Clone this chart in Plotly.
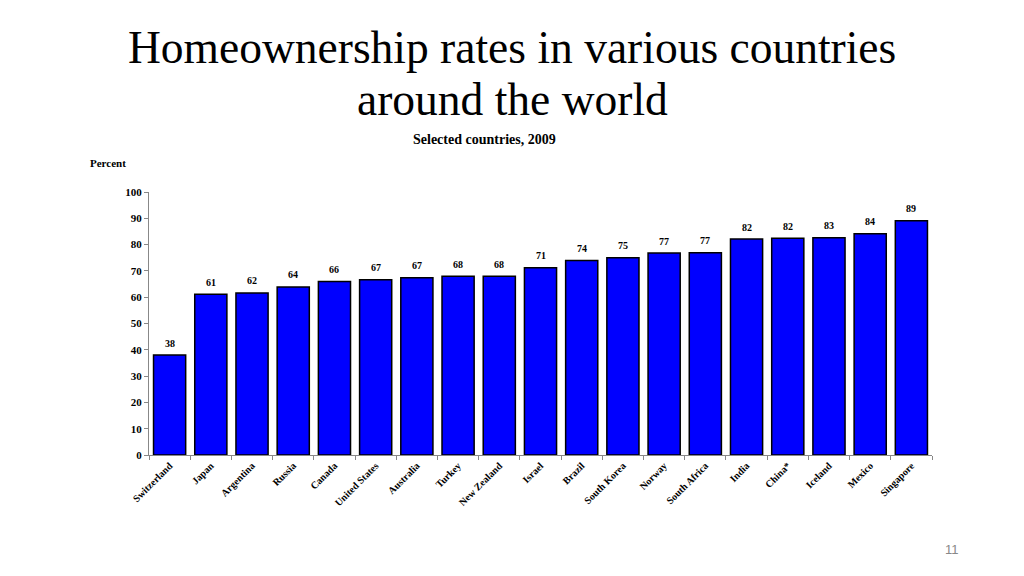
import plotly.graph_objects as go

countries = ["Switzerland", "Japan", "Argentina", "Russia", "Canada", "United States",
             "Australia", "Turkey", "New Zealand", "Israel", "Brazil", "South Korea",
             "Norway", "South Africa", "India", "China*", "Iceland", "Mexico", "Singapore"]
values = [38.0, 61.1, 61.6, 63.9, 66.0, 66.6, 67.4, 68.0, 68.0, 71.2, 74.0, 75.0,
          76.8, 76.9, 82.1, 82.4, 82.6, 84.1, 89.1]
labels = ["38", "61", "62", "64", "66", "67", "67", "68", "68", "71", "74", "75",
          "77", "77", "82", "82", "83", "84", "89"]
yticks = [0, 10, 20, 30, 40, 50, 60, 70, 80, 90, 100]

serif = "Liberation Serif, Times New Roman, serif"

# page body has an 8px margin; compensate so the plot lands where it should
OFF = 8
L, R, T, B = 149 - OFF, 92 + OFF, 192 - OFF, 121 + OFF

fig = go.Figure(go.Bar(
    x=countries, y=values,
    marker=dict(color="#0000FF", line=dict(color="black", width=1.5)),
    hoverinfo="x+y",
))

# value labels above bars
ann = []
for c, v, t in zip(countries, values, labels):
    ann.append(dict(x=c, y=v, xref="x", yref="y", text="<b>%s</b>" % t,
                    showarrow=False, yshift=12, xanchor="center", yanchor="middle",
                    font=dict(family=serif, size=10, color="black")))

pw = 1024 - L - R
ph = 576 - T - B


def px(xpix, ypix):
    # screen pixel -> paper coords
    fx = (xpix - OFF) - L
    fy = (576 - (ypix - OFF)) - B
    return fx / pw, fy / ph


texts = [
    ("Homeownership rates in various countries", 512, 47, dict(family=serif, size=45.5, color="black")),
    ("around the world", 512, 100, dict(family=serif, size=45.5, color="black")),
    ("<b>Selected countries, 2009</b>", 484, 139, dict(family=serif, size=14, color="black")),
    ("<b>Percent</b>", 108, 163, dict(family=serif, size=11, color="black")),
    ("11", 952, 549, dict(family="Liberation Sans, Arial, sans-serif", size=13, color="#888888")),
]
for t, xp, yp, f in texts:
    x, y = px(xp, yp)
    ann.append(dict(text=t, x=x, y=y, xref="paper", yref="paper", showarrow=False,
                    xanchor="center", yanchor="middle", font=f))

fig.update_layout(
    width=1024, height=576,
    margin=dict(l=L, r=R, t=T, b=B, autoexpand=False),
    paper_bgcolor="white", plot_bgcolor="white",
    bargap=0.22, showlegend=False,
    xaxis=dict(
        type="category", range=[-0.5, 18.5], tickson="boundaries",
        ticks="outside", ticklen=4, tickcolor="#888888",
        showline=True, linecolor="#888888", linewidth=1,
        tickangle=-45, showgrid=False,
        tickfont=dict(family=serif, size=10, color="black"),
        tickvals=countries, ticktext=["<b>%s</b>" % c for c in countries],
    ),
    yaxis=dict(
        range=[0, 100], tickvals=yticks,
        ticktext=["<b>%d</b>" % t for t in yticks],
        ticks="outside", ticklen=4, tickcolor="#888888",
        showline=True, linecolor="#888888", linewidth=1,
        showgrid=False, zeroline=False,
        tickfont=dict(family=serif, size=11, color="black"),
    ),
    annotations=ann,
)

fig.write_html("out.html")
